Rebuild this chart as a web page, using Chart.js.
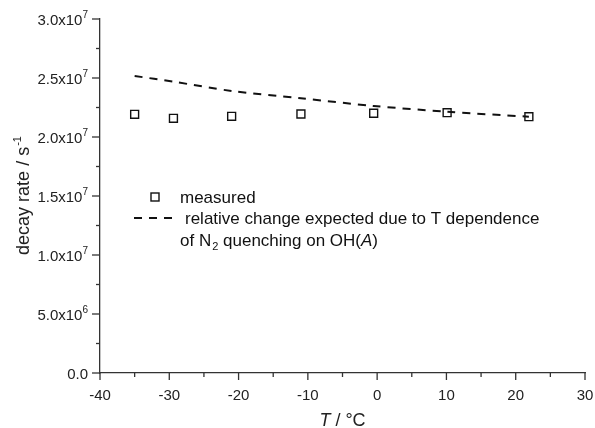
<!DOCTYPE html>
<html>
<head>
<meta charset="utf-8">
<script src="https://cdn.jsdelivr.net/npm/chart.js@4"></script>
<style>
  html, body { margin: 0; padding: 0; background: #fff; }
  #wrap { width: 595px; height: 428px; }
</style>
</head>
<body>
<div id="wrap"><canvas id="decayChart" width="595" height="428"></canvas></div>
<script>
// data
const temps = [-35, -29.4, -21, -11, -0.5, 10.1, 21.9];
const measured = [2.192e7, 2.158e7, 2.175e7, 2.195e7, 2.201e7, 2.206e7, 2.172e7];
const expected = [2.517e7, 2.469e7, 2.39e7, 2.328e7, 2.263e7, 2.214e7, 2.172e7];

const xTicks = [-40, -30, -20, -10, 0, 10, 20, 30];
const xMinorTicks = [-35, -25, -15, -5, 5, 15, 25];
const yTicks = [0, 5e6, 1e7, 1.5e7, 2e7, 2.5e7, 3e7];
const yTickLabels = [['0.0', ''], ['5.0x10', '6'], ['1.0x10', '7'], ['1.5x10', '7'], ['2.0x10', '7'], ['2.5x10', '7'], ['3.0x10', '7']];
const yMinorTicks = [2.5e6, 7.5e6, 1.25e7, 1.75e7, 2.25e7, 2.75e7];

const FONT = 'Arial, "Liberation Sans", sans-serif';
const INK = '#222';

function drawTick(ctx, x1, y1, x2, y2) {
  ctx.beginPath();
  ctx.moveTo(x1, y1);
  ctx.lineTo(x2, y2);
  ctx.stroke();
}

const axisText = {
  id: 'axisText',
  afterDraw(chart) {
    const { ctx, chartArea: a, scales: { x, y } } = chart;
    ctx.save();
    ctx.strokeStyle = '#333';
    ctx.lineWidth = 1.3;
    ctx.fillStyle = INK;

    // x ticks + labels
    xTicks.forEach(v => {
      const px = x.getPixelForValue(v);
      drawTick(ctx, px, a.bottom, px, a.bottom + 7);
    });
    xMinorTicks.forEach(v => {
      const px = x.getPixelForValue(v);
      drawTick(ctx, px, a.bottom, px, a.bottom + 4);
    });
    ctx.font = '15px ' + FONT;
    ctx.textAlign = 'center';
    ctx.textBaseline = 'alphabetic';
    xTicks.forEach(v => ctx.fillText(String(v), x.getPixelForValue(v), a.bottom + 27));

    // y ticks + labels with exponent
    yTicks.forEach((v, i) => {
      const py = y.getPixelForValue(v);
      drawTick(ctx, a.left - 8, py, a.left, py);
      const [base, sup] = yTickLabels[i];
      ctx.font = '10px ' + FONT;
      const supW = ctx.measureText(sup).width;
      ctx.font = '15px ' + FONT;
      const baseW = ctx.measureText(base).width;
      const right = a.left - 12;
      ctx.textAlign = 'left';
      ctx.fillText(base, right - supW - baseW, py + 6);
      if (sup) {
        ctx.font = '10px ' + FONT;
        ctx.fillText(sup, right - supW, py - 1);
      }
    });
    yMinorTicks.forEach(v => {
      const py = y.getPixelForValue(v);
      drawTick(ctx, a.left - 4, py, a.left, py);
    });

    // x title: italic T
    ctx.textAlign = 'left';
    ctx.font = 'italic 18px ' + FONT;
    const tW = ctx.measureText('T').width;
    ctx.font = '18px ' + FONT;
    const restW = ctx.measureText(' / °C').width;
    const cx = (a.left + a.right) / 2;
    let sx = cx - (tW + restW) / 2;
    ctx.font = 'italic 18px ' + FONT;
    ctx.fillText('T', sx, 426);
    ctx.font = '18px ' + FONT;
    ctx.fillText(' / °C', sx + tW, 426);

    // y title, rotated
    ctx.save();
    ctx.translate(29, (a.top + a.bottom) / 2);
    ctx.rotate(-Math.PI / 2);
    ctx.font = '18px ' + FONT;
    const mainW = ctx.measureText('decay rate / s').width;
    ctx.font = '11px ' + FONT;
    const expW = ctx.measureText('-1').width;
    sx = -(mainW + expW) / 2;
    ctx.font = '18px ' + FONT;
    ctx.fillText('decay rate / s', sx, 0);
    ctx.font = '11px ' + FONT;
    ctx.fillText('-1', sx + mainW + 1, -8);
    ctx.restore();

    // legend
    ctx.strokeStyle = '#111';
    ctx.lineWidth = 1.4;
    ctx.strokeRect(151, 193, 8, 8);
    ctx.lineWidth = 2;
    ctx.setLineDash([8, 7]);
    drawTick(ctx, 134, 218, 176, 218);
    ctx.setLineDash([]);
    ctx.font = '17px ' + FONT;
    ctx.fillStyle = '#111';
    ctx.fillText('measured', 180, 203);
    ctx.fillText('relative change expected due to T dependence', 185, 224);
    let lx = 180;
    ctx.fillText('of N', lx, 246);
    lx += ctx.measureText('of N').width;
    ctx.font = '11px ' + FONT;
    ctx.fillText('2', lx + 1, 250);
    lx += ctx.measureText('2').width + 1;
    ctx.font = '17px ' + FONT;
    ctx.fillText(' quenching on OH(', lx, 246);
    lx += ctx.measureText(' quenching on OH(').width;
    ctx.font = 'italic 17px ' + FONT;
    ctx.fillText('A', lx, 246);
    lx += ctx.measureText('A').width;
    ctx.font = '17px ' + FONT;
    ctx.fillText(')', lx, 246);

    ctx.restore();
  }
};

const chart = new Chart(document.getElementById('decayChart').getContext('2d'), {
  type: 'scatter',
  data: {
    datasets: [
      {
        label: 'measured',
        data: temps.map((t, i) => ({ x: t, y: measured[i] })),
        pointStyle: 'rect',
        pointRadius: 5.6,
        pointBorderWidth: 1.4,
        pointBorderColor: '#111',
        pointBackgroundColor: 'rgba(255,255,255,0)',
        showLine: false
      },
      {
        label: 'relative change expected due to T dependence of N2 quenching on OH(A)',
        data: temps.map((t, i) => ({ x: t, y: expected[i] })),
        showLine: true,
        borderColor: '#111',
        borderWidth: 2,
        borderDash: [8, 7],
        tension: 0.3,
        pointRadius: 0
      }
    ]
  },
  options: {
    responsive: false,
    animation: false,
    layout: { padding: { left: 100, top: 19, right: 10, bottom: 55 } },
    plugins: {
      legend: { display: false },
      tooltip: { enabled: false }
    },
    scales: {
      x: {
        type: 'linear',
        min: -40,
        max: 30,
        grid: { display: false },
        border: { display: true, color: '#333', width: 1.3 },
        ticks: { display: false },
        afterFit(scale) { scale.height = 0; }
      },
      y: {
        min: 0,
        max: 3e7,
        grid: { display: false },
        border: { display: true, color: '#333', width: 1.3 },
        ticks: { display: false },
        afterFit(scale) { scale.width = 0; }
      }
    }
  },
  plugins: [axisText]
});
</script>
</body>
</html>
